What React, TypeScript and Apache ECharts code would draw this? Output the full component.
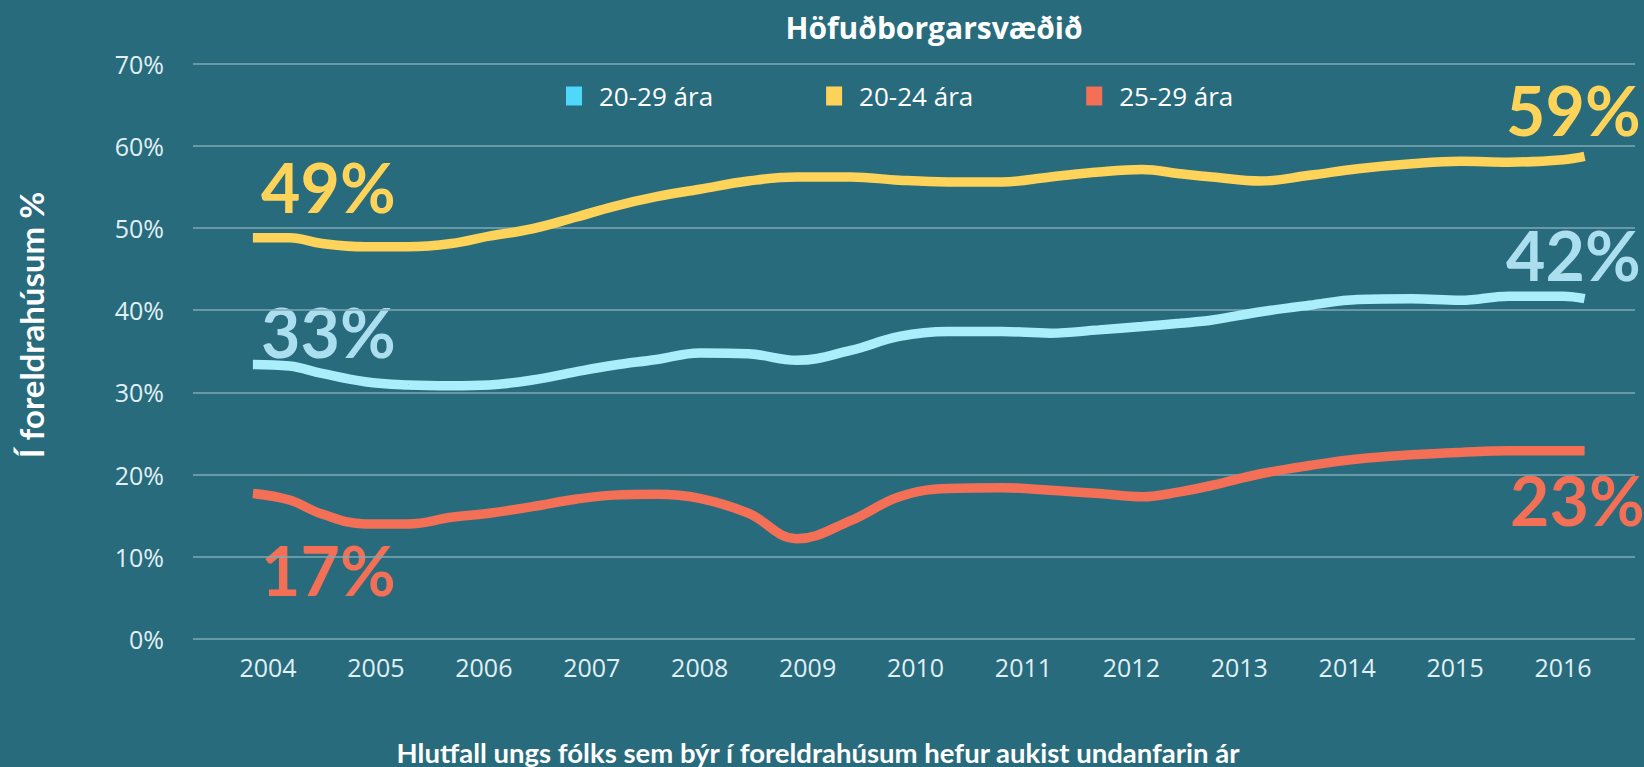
import React, { useEffect, useRef } from "react";
import * as echarts from "echarts";

const BG = "#286b7c";
const FONT = "Lato, 'Open Sans', sans-serif";
const FONT_WIDE = "'Open Sans', Lato, sans-serif";

const years = [2004, 2005, 2006, 2007, 2008, 2009, 2010, 2011, 2012, 2013, 2014, 2015, 2016];

// sample positions along the time axis (fractional years)
const timePoints = [
  2003.86, 2004.2, 2004.5, 2004.9, 2005.3, 2005.7, 2006.05, 2006.45, 2006.85, 2007.2,
  2007.6, 2008.0, 2008.45, 2008.9, 2009.4, 2009.85, 2010.3, 2010.8, 2011.25, 2011.7,
  2012.1, 2012.45, 2012.75, 2013.2, 2013.65, 2014.1, 2014.6, 2015.05, 2015.5, 2016.0, 2016.2,
];

const seriesNames = ["20-29 ára", "20-24 ára", "25-29 ára"];

const share2029 = [
  33.4, 33.2, 32.3, 31.3, 30.9, 30.8, 30.9, 31.5, 32.5, 33.3,
  34.0, 34.8, 34.7, 33.9, 35.1, 36.8, 37.4, 37.4, 37.2, 37.6,
  38.0, 38.4, 38.8, 39.8, 40.6, 41.3, 41.4, 41.2, 41.7, 41.7, 41.4,
];
const share2024 = [
  48.8, 48.8, 48.1, 47.7, 47.7, 48.1, 49.0, 49.9, 51.3, 52.6,
  53.8, 54.7, 55.7, 56.2, 56.2, 55.8, 55.6, 55.6, 56.2, 56.8,
  57.1, 56.6, 56.2, 55.7, 56.4, 57.2, 57.8, 58.1, 58.0, 58.3, 58.7,
];
const share2529 = [
  17.7, 16.9, 15.2, 14.0, 14.0, 14.8, 15.3, 16.1, 17.0, 17.5,
  17.6, 17.1, 15.3, 12.2, 14.4, 17.3, 18.3, 18.4, 18.1, 17.7,
  17.3, 17.9, 18.7, 20.1, 21.1, 21.9, 22.4, 22.7, 22.9, 22.9, 22.9,
];

const startLabels = ["33%", "49%", "17%"];
const endLabels = ["42%", "59%", "23%"];

const lineColors = ["#aaeefc", "#fdd35a", "#f36f56"];
const legendColors = ["#4fd8fb", "#fdd35a", "#f36f56"];
const labelColors = ["#abdff0", "#fdd35a", "#f36f56"];

const title = "Höfuðborgarsvæðið";
const yName = "Í foreldrahúsum %";
const xName = "Hlutfall ungs fólks sem býr í foreldrahúsum hefur aukist undanfarin ár";

export default function App() {
  const ref = useRef<HTMLDivElement>(null);

  useEffect(() => {
    document.body.style.margin = "0";
    const chart = echarts.init(ref.current!, null, { renderer: "svg" });
    const allValues = [share2029, share2024, share2529];

    const startPos = [
      { x: 261, y: 331 },
      { x: 261, y: 186 },
      { x: 261, y: 569 },
    ];
    const endPos = [
      { x: 1506, y: 254 },
      { x: 1506, y: 109 },
      { x: 1510, y: 499 },
    ];

    const bigText = (text: string, x: number, y: number, color: string) => ({
      type: "text",
      x,
      y,
      style: {
        text,
        fill: color,
        fontSize: 68,
        fontWeight: "bold",
        fontFamily: FONT,
        align: "left",
        verticalAlign: "middle",
      },
    });

    chart.setOption({
      animation: false,
      backgroundColor: BG,
      title: {
        text: title,
        left: 929,
        top: 7,
        textAlign: "center",
        textStyle: { color: "#ffffff", fontSize: 30, fontWeight: "bold", fontFamily: FONT_WIDE },
      },
      legend: {
        left: 561,
        top: 78,
        itemWidth: 16,
        itemHeight: 19,
        itemGap: 113,
        icon: "rect",
        textStyle: {
          color: "#ffffff",
          fontSize: 26,
          fontFamily: FONT_WIDE,
          padding: [0, 0, 0, 12],
        },
        data: seriesNames.map((n, i) => ({ name: n, itemStyle: { color: legendColors[i] } })),
      },
      grid: { left: 193, right: 9, top: 63.5, bottom: 128 },
      xAxis: {
        type: "value",
        min: 2003.305,
        max: 2016.667,
        axisLine: { show: false },
        axisTick: { show: false },
        splitLine: { show: false },
        axisLabel: {
          customValues: years,
          formatter: (v: number) => String(Math.round(v)),
          color: "#e0f0f5",
          fontSize: 25,
          fontFamily: FONT_WIDE,
          margin: 15,
        },
      },
      yAxis: {
        type: "value",
        min: 0,
        max: 70,
        interval: 10,
        axisLine: { show: false },
        axisTick: { show: false },
        axisLabel: {
          formatter: "{value}%",
          color: "#e0f0f5",
          fontSize: 25,
          fontFamily: FONT_WIDE,
          margin: 29,
        },
        splitLine: { lineStyle: { color: "#7fa8b6", width: 1.5 } },
      },
      series: seriesNames.map((name, i) => ({
        name,
        type: "line",
        smooth: 0.4,
        showSymbol: false,
        color: lineColors[i],
        lineStyle: { color: lineColors[i], width: 9.5 },
        data: timePoints.map((t, j) => [t, allValues[i][j]]),
        z: 3 - i,
      })),
      graphic: [
        ...startLabels.map((t, i) => bigText(t, startPos[i].x, startPos[i].y, labelColors[i])),
        ...endLabels.map((t, i) => bigText(t, endPos[i].x, endPos[i].y, labelColors[i])),
        {
          type: "text",
          x: 31,
          y: 325,
          rotation: Math.PI / 2,
          style: {
            text: yName,
            fill: "#ffffff",
            fontSize: 33,
            fontWeight: "bold",
            fontFamily: FONT,
            align: "center",
            verticalAlign: "middle",
          },
        },
        {
          type: "text",
          x: 818,
          y: 752,
          style: {
            text: xName,
            fill: "#ffffff",
            fontSize: 27.5,
            fontWeight: "bold",
            fontFamily: FONT,
            align: "center",
            verticalAlign: "middle",
          },
        },
      ],
    });
    return () => chart.dispose();
  }, []);

  return (
    <div
      ref={ref}
      style={{ position: "fixed", left: 0, top: 0, width: 1644, height: 767, background: BG }}
    />
  );
}
